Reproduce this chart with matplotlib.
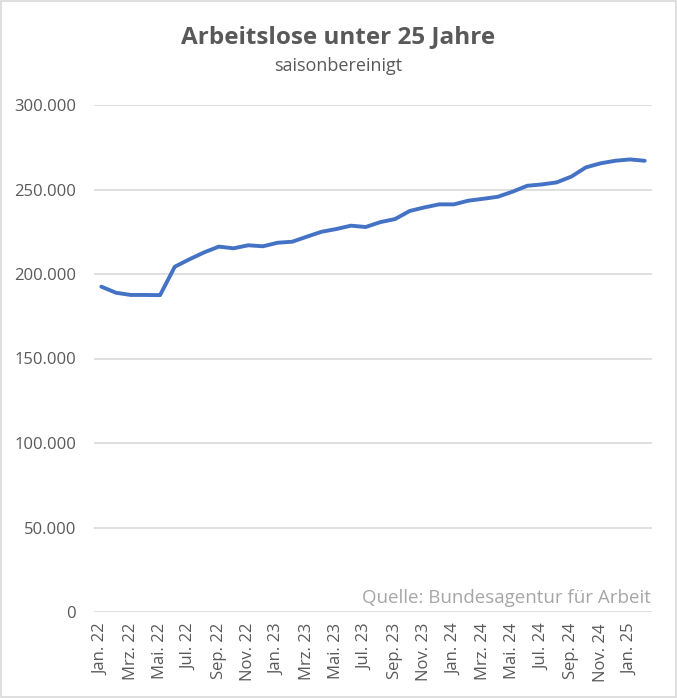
import matplotlib.pyplot as plt
import numpy as np
from matplotlib.ticker import FuncFormatter

# Monatswerte Jan. 22 bis Feb. 25 (saisonbereinigt)
months = ["Jan.", "Feb.", "Mrz.", "Apr.", "Mai.", "Jun.",
          "Jul.", "Aug.", "Sep.", "Okt.", "Nov.", "Dez."]
years = ["22", "23", "24", "25"]
labels = [f"{m} {y}" for y in years for m in months][:38]

values = [192500, 188900, 187600, 187600, 187500, 204300,
          208700, 212800, 216200, 215200, 217000, 216400,
          218500, 219100, 222100, 225000, 226600, 228600,
          227800, 230700, 232500, 237300, 239400, 241200,
          241200, 243400, 244500, 245700, 248700, 252200,
          253000, 254200, 257600, 263100, 265500, 267000,
          267800, 267000]

grey = "#595959"
plt.rcParams['font.family'] = ['Open Sans', 'DejaVu Sans']

W, H = 677, 698
fig = plt.figure(figsize=(W / 100, H / 100), dpi=100)
ax = fig.add_axes([94 / W, 86 / H, 558 / W, 507 / H])

x = np.arange(len(values))
ax.plot(x, values, color="#4472C4", linewidth=2.8, solid_capstyle="round")

ax.set_xlim(-0.5, len(values) - 0.5)
ax.set_ylim(0, 300000)
ax.set_yticks(np.arange(0, 300001, 50000))
ax.yaxis.set_major_formatter(FuncFormatter(
    lambda v, p: f"{int(v):,}".replace(",", ".")))
ax.set_xticks(x[::2])
ax.set_xticklabels(labels[::2], rotation=90)

ax.grid(axis="y", color="#d9d9d9", linewidth=1.2)
ax.set_axisbelow(True)
for s in ax.spines.values():
    s.set_visible(False)
ax.tick_params(axis="both", length=0, colors=grey, labelsize=12)
ax.tick_params(axis="y", pad=13)
ax.tick_params(axis="x", pad=8)

fig.text(0.5, 1 - 37 / H, "Arbeitslose unter 25 Jahre", ha="center",
         va="center", fontsize=17.5, fontweight="bold", color=grey)
fig.text(0.5, 1 - 66 / H, "saisonbereinigt", ha="center", va="center",
         fontsize=13, color=grey)
fig.text(651 / W, 1 - 598 / H, "Quelle: Bundesagentur für Arbeit",
         ha="right", va="center", fontsize=13.5, color="#a6a6a6")

# Rahmen
fig.patches.append(plt.Rectangle((0.002, 0.002), 0.996, 0.996,
                                 transform=fig.transFigure, fill=False,
                                 edgecolor="#d9d9d9", linewidth=1.2))

fig.savefig("out.png", dpi=100)
